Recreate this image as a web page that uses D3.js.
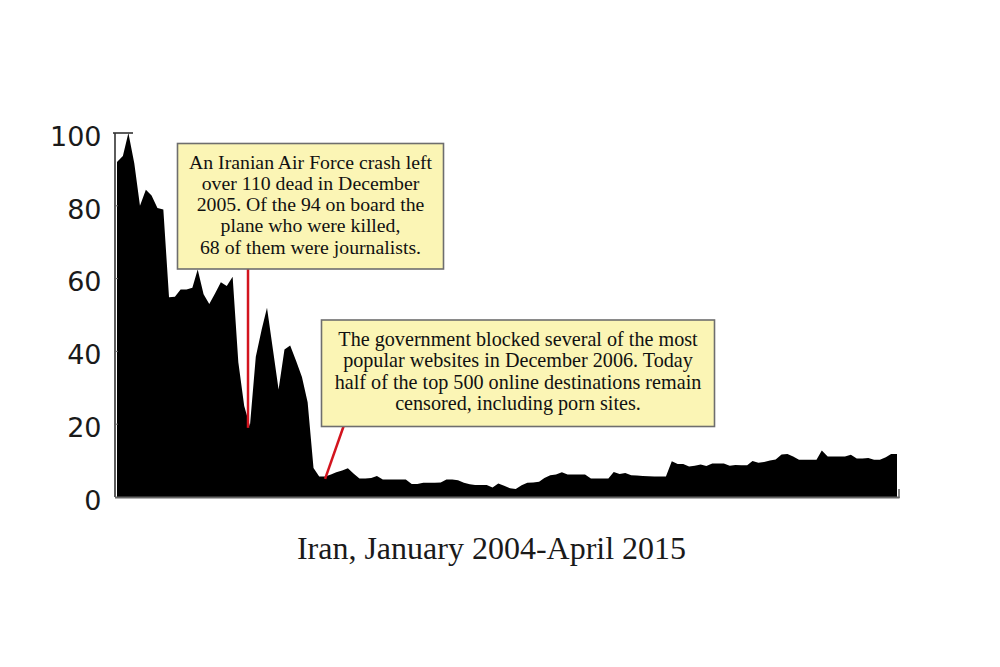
<!DOCTYPE html>
<html>
<head>
<meta charset="utf-8">
<script src="https://cdn.jsdelivr.net/npm/d3@7"></script>
<style>
  html, body { margin: 0; padding: 0; background: #ffffff; }
  svg { display: block; }
</style>
</head>
<body>
<svg id="chart" width="1000" height="667"></svg>
<script>
// ---- Data (monthly, January 2004 – April 2015) ----
const startMonth = "2004-01-01";
const values = [
  92, 93.7, 100, 91.7, 80, 84.4, 82.8, 79.4, 79, 54.9,
  55, 57, 57, 57.5, 62.5, 55.7, 53, 56, 59, 58,
  60.5, 37, 25, 19.5, 38.5, 46, 52, 40.6, 29.5, 40.5,
  41.6, 37.4, 33, 26, 8, 5.6, 5.6, 6.2, 6.8, 7.3,
  7.9, 6.4, 5.1, 5.1, 5.2, 5.8, 4.8, 4.8, 4.8, 4.8,
  4.8, 3.6, 3.6, 3.9, 3.9, 3.9, 4, 4.8, 4.8, 4.6,
  3.9, 3.5, 3.3, 3.3, 3.3, 2.6, 3.7, 3.1, 2.4, 2.2,
  3.2, 3.9, 4.0, 4.2, 5.2, 6.0, 6.2, 6.8, 6.2, 6.2,
  6.2, 6.2, 5.1, 5.1, 5.1, 5.1, 6.9, 6.3, 6.6, 6,
  5.9, 5.8, 5.7, 5.6, 5.6, 5.6, 9.8, 9.1, 9.1, 8.4,
  8.6, 8.9, 8.5, 9.2, 9.2, 9.2, 8.6, 8.8, 8.7, 8.7,
  9.9, 9.4, 9.6, 10, 10.3, 11.7, 11.8, 11.1, 10.2, 10.2,
  10.2, 10.2, 12.8, 11.1, 11.1, 11.1, 11.1, 11.6, 10.6, 10.6,
  10.7, 10.2, 10.2, 10.9, 11.8, 11.8
];
const yTicks = [0, 20, 40, 60, 80, 100];
const title = "Iran, January 2004-April 2015";

const note1Lines = [
  "An Iranian Air Force crash left",
  "over 110 dead in December",
  "2005. Of the 94 on board the",
  "plane who were killed,",
  "68 of them were journalists."
];
const note1Anchor = { date: "2005-11-21", value: 19 };

const note2Lines = [
  "The government blocked several of the most",
  "popular websites in December 2006. Today",
  "half of the top 500 online destinations remain",
  "censored, including porn sites."
];
const note2Anchor = { date: "2007-01-01", value: 5 };

// ---- Build ----
const parseDate = d3.timeParse("%Y-%m-%d");
const t0 = parseDate(startMonth);
const data = values.map((v, i) => ({ date: d3.timeMonth.offset(t0, i), value: v }));

const svg = d3.select("#chart");
const x = d3.scaleTime()
  .domain(d3.extent(data, d => d.date))
  .range([117, 897]);
const y = d3.scaleLinear().domain([0, 100]).range([497, 133]);

// area
const area = d3.area()
  .x(d => x(d.date))
  .y0(y(0))
  .y1(d => y(d.value));
svg.append("path")
  .datum(data)
  .attr("d", area)
  .attr("fill", "#000");

// y axis line and ticks
const axisX = 115;
svg.append("line")
  .attr("x1", axisX).attr("x2", axisX)
  .attr("y1", y(100)).attr("y2", y(0))
  .attr("stroke", "#333").attr("stroke-width", 1.6);
svg.append("line")
  .attr("x1", axisX - 2).attr("x2", 133)
  .attr("y1", y(100)).attr("y2", y(100))
  .attr("stroke", "#333").attr("stroke-width", 1.6);
svg.selectAll(".ytick")
  .data(yTicks.filter(t => t > 0 && t < 100))
  .enter().append("line")
  .attr("x1", axisX).attr("x2", axisX + 3)
  .attr("y1", d => y(d)).attr("y2", d => y(d))
  .attr("stroke", "#666").attr("stroke-width", 1);

svg.selectAll(".ylabel")
  .data(yTicks)
  .enter().append("text")
  .attr("x", 101.5)
  .attr("y", d => y(d) + 3)
  .attr("dy", "0.36em")
  .attr("text-anchor", "end")
  .attr("font-family", "'DejaVu Sans', sans-serif")
  .attr("font-size", 27)
  .attr("fill", "#1a1a1a")
  .text(d => d);

// x baseline
svg.append("line")
  .attr("x1", axisX).attr("x2", 899.5)
  .attr("y1", y(0) + 0.5).attr("y2", y(0) + 0.5)
  .attr("stroke", "#666").attr("stroke-width", 2);
svg.append("line")
  .attr("x1", 899).attr("x2", 899)
  .attr("y1", y(0) + 1).attr("y2", y(0) - 8)
  .attr("stroke", "#666").attr("stroke-width", 1.5);

// annotations
function note(lines, anchor, box, lineTopX) {
  const ax = x(parseDate(anchor.date));
  const ay = y(anchor.value);
  svg.append("line")
    .attr("x1", lineTopX === undefined ? ax : lineTopX)
    .attr("y1", box.y + box.h)
    .attr("x2", ax).attr("y2", ay)
    .attr("stroke", "#d3141e").attr("stroke-width", 2.5);
  svg.append("rect")
    .attr("x", box.x).attr("y", box.y)
    .attr("width", box.w).attr("height", box.h)
    .attr("fill", "#fbf5b5")
    .attr("stroke", "#6e6e6e").attr("stroke-width", 1.6);
  const t = svg.append("text")
    .attr("font-family", "'Liberation Serif', 'Times New Roman', serif")
    .attr("font-size", 20)
    .attr("fill", "#111")
    .attr("text-anchor", "middle");
  const spans = lines.map((l, i) => t.append("tspan")
      .attr("x", box.x + box.w / 2)
      .attr("y", box.firstY + i * box.lh)
      .text(l));
  // fit font size so the reference line width is matched
  const ref = spans[box.refLine].node().getComputedTextLength();
  t.attr("font-size", 20 * box.refWidth / ref);
}

note(note1Lines, note1Anchor,
  { x: 177.5, y: 143.5, w: 266, h: 125.5, firstY: 168.5, lh: 21.3, refLine: 0, refWidth: 243 });
note(note2Lines, note2Anchor,
  { x: 321.5, y: 320, w: 393, h: 106.5, firstY: 346, lh: 21.4, refLine: 2, refWidth: 367 }, 343.5);

// title
svg.append("text")
  .attr("x", 491.5)
  .attr("y", 559)
  .attr("text-anchor", "middle")
  .attr("font-family", "'Liberation Serif', 'Times New Roman', serif")
  .attr("font-size", 32)
  .attr("fill", "#1a1a1a")
  .text(title);
</script>
</body>
</html>
